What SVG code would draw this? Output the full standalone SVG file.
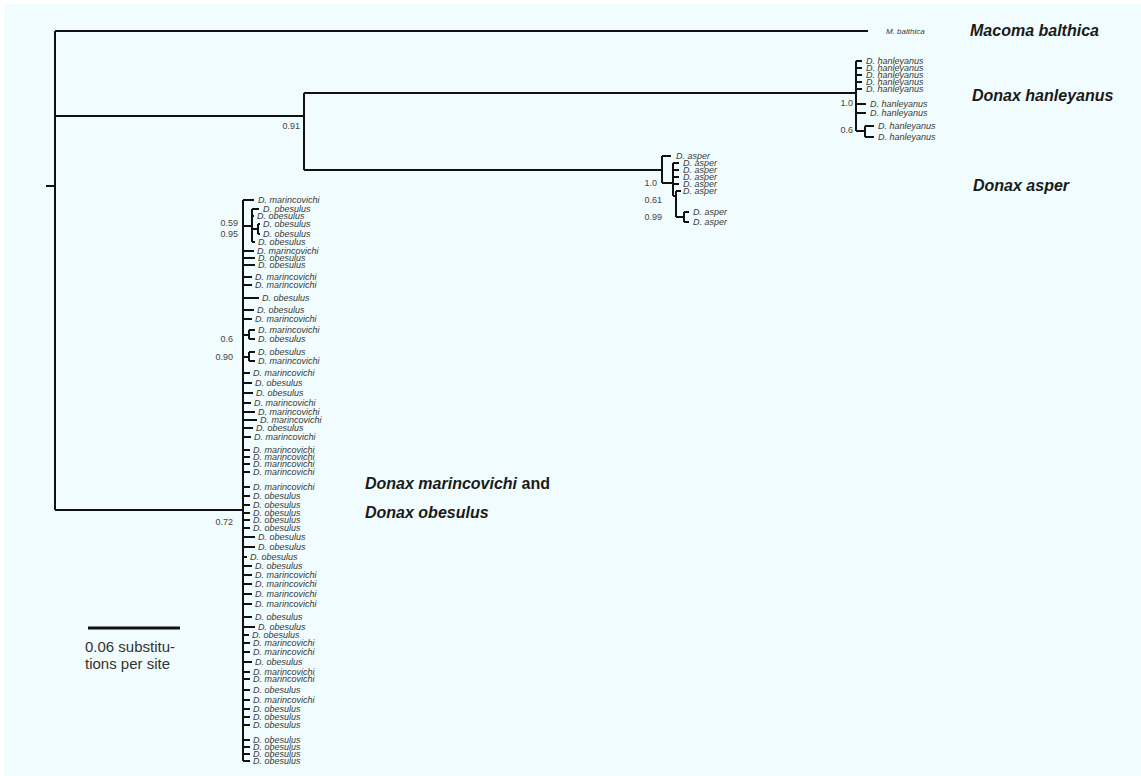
<svg xmlns="http://www.w3.org/2000/svg" width="1141" height="776" viewBox="0 0 1141 776">
<style>
.br{fill:none;stroke:#111;stroke-width:2}
.lf{font-family:"Liberation Sans",Arial,sans-serif;font-size:9px;font-style:italic;fill:#3a3a3a}
.sp{font-family:"Liberation Sans",Arial,sans-serif;font-size:9px;fill:#444;text-anchor:end}
.cl{font-family:"Liberation Sans",Arial,sans-serif;font-size:16px;font-weight:bold;font-style:italic;fill:#1a1a1a}
.sc{font-family:"Liberation Sans",Arial,sans-serif;font-size:15px;fill:#333}
</style>
<rect x="0" y="0" width="1141" height="776" fill="#ffffff"/>
<rect x="4" y="4" width="1137" height="772" fill="#f0fcfd"/>
<g id="connectors">
<path class="br" d="M46,186H55 M55,31V510 M55,31H868 M55,116H304 M304,93V170 M304,93H856 M304,170H662 M55,510H243"/>
<!-- hanleyanus -->
<path class="br" d="M856,61V131 M856,61H862 M856,68H862 M856,75H862 M856,82H862 M856,89H862 M856,104H866 M856,113H866 M856,131H865 M865,126V137 M865,126H874 M865,137H874"/>
<!-- asper -->
<path class="br" d="M662,156V183 M662,156H671 M662,183H673 M673,163V196 M673,163H679 M673,170H679 M673,177H679 M673,184H679 M673,196H676 M676,191V217 M676,191H681 M676,217H684 M684,212V222 M684,212H689 M684,222H689"/>
<!-- big clade -->
<path class="br" d="M243,200V761 M243,200H254 M243,226H252 M252,209V242 M252,209H259 M252,216H254 M252,242H255 M252,229H258 M258,224V234 M258,224H260 M258,234H260 M243,335H249 M249,330V339 M249,330H255 M249,339H255 M243,357H249 M249,352V361 M249,352H255 M249,361H255"/>
<path class="br" d="M243,251H254 M243,258H255 M243,265H255 M243,277H252 M243,285H252 M243,298H259 M243,310H254 M243,319H252 M243,373H250 M243,383H252 M243,393H253 M243,403H251 M243,412H255 M243,420H257 M243,428H253 M243,437H251 M243,450H250 M243,457H250 M243,464H250 M243,472H250 M243,487H250 M243,496H250 M243,505H250 M243,513H250 M243,520H250 M243,528H250 M243,537H255 M243,547H255 M243,557H247 M243,566H252 M243,575H252 M243,584H252 M243,594H252 M243,604H252 M243,617H252 M243,627H255 M243,635H249 M243,643H250 M243,652H250 M243,662H252 M243,672H250 M243,679H250 M243,690H250 M243,700H250 M243,709H250 M243,717H250 M243,725H250 M243,740H250 M243,747H250 M243,754H250 M243,761H250"/>
<line x1="88" y1="628" x2="180" y2="628" stroke="#111" stroke-width="3"/>
</g>
<g id="support">
<text class="sp" x="300" y="129">0.91</text>
<text class="sp" x="853" y="106">1.0</text>
<text class="sp" x="853" y="133">0.6</text>
<text class="sp" x="657" y="186">1.0</text>
<text class="sp" x="662" y="203">0.61</text>
<text class="sp" x="662" y="220">0.99</text>
<text class="sp" x="238" y="226">0.59</text>
<text class="sp" x="238" y="237">0.95</text>
<text class="sp" x="233" y="342">0.6</text>
<text class="sp" x="233" y="360">0.90</text>
<text class="sp" x="233" y="525">0.72</text>
</g>
<g id="macoma">
<text class="lf" x="886" y="34" style="font-size:8px">M. balthica</text>
<text class="cl" x="970" y="36">Macoma balthica</text>
</g>
<g id="hanleyanus">
<text class="lf" x="866" y="64">D. hanleyanus</text>
<text class="lf" x="866" y="71">D. hanleyanus</text>
<text class="lf" x="866" y="78">D. hanleyanus</text>
<text class="lf" x="866" y="85">D. hanleyanus</text>
<text class="lf" x="866" y="92">D. hanleyanus</text>
<text class="lf" x="870" y="107">D. hanleyanus</text>
<text class="lf" x="870" y="116">D. hanleyanus</text>
<text class="lf" x="878" y="129">D. hanleyanus</text>
<text class="lf" x="878" y="140">D. hanleyanus</text>
<text class="cl" x="972" y="101">Donax hanleyanus</text>
</g>
<g id="asper">
<text class="lf" x="676" y="159">D. asper</text>
<text class="lf" x="683" y="166">D. asper</text>
<text class="lf" x="683" y="173">D. asper</text>
<text class="lf" x="683" y="180">D. asper</text>
<text class="lf" x="683" y="187">D. asper</text>
<text class="lf" x="683" y="194">D. asper</text>
<text class="lf" x="693" y="215">D. asper</text>
<text class="lf" x="693" y="225">D. asper</text>
<text class="cl" x="973" y="191">Donax asper</text>
</g>
<g id="marincovichi-obesulus">
<text class="lf" x="258" y="203">D. marincovichi</text>
<text class="lf" x="263" y="212">D. obesulus</text>
<text class="lf" x="257" y="219">D. obesulus</text>
<text class="lf" x="263" y="227">D. obesulus</text>
<text class="lf" x="263" y="237">D. obesulus</text>
<text class="lf" x="258" y="245">D. obesulus</text>
<text class="lf" x="257" y="254">D. marincovichi</text>
<text class="lf" x="258" y="261">D. obesulus</text>
<text class="lf" x="258" y="268">D. obesulus</text>
<text class="lf" x="255" y="280">D. marincovichi</text>
<text class="lf" x="255" y="288">D. marincovichi</text>
<text class="lf" x="262" y="301">D. obesulus</text>
<text class="lf" x="257" y="313">D. obesulus</text>
<text class="lf" x="255" y="322">D. marincovichi</text>
<text class="lf" x="258" y="333">D. marincovichi</text>
<text class="lf" x="258" y="342">D. obesulus</text>
<text class="lf" x="258" y="355">D. obesulus</text>
<text class="lf" x="258" y="364">D. marincovichi</text>
<text class="lf" x="253" y="376">D. marincovichi</text>
<text class="lf" x="255" y="386">D. obesulus</text>
<text class="lf" x="256" y="396">D. obesulus</text>
<text class="lf" x="254" y="406">D. marincovichi</text>
<text class="lf" x="258" y="415">D. marincovichi</text>
<text class="lf" x="260" y="423">D. marincovichi</text>
<text class="lf" x="256" y="431">D. obesulus</text>
<text class="lf" x="254" y="440">D. marincovichi</text>
<text class="lf" x="253" y="453">D. marincovichi</text>
<text class="lf" x="253" y="460">D. marincovichi</text>
<text class="lf" x="253" y="467">D. marincovichi</text>
<text class="lf" x="253" y="475">D. marincovichi</text>
<text class="lf" x="253" y="490">D. marincovichi</text>
<text class="lf" x="253" y="499">D. obesulus</text>
<text class="lf" x="253" y="508">D. obesulus</text>
<text class="lf" x="253" y="516">D. obesulus</text>
<text class="lf" x="253" y="523">D. obesulus</text>
<text class="lf" x="253" y="531">D. obesulus</text>
<text class="lf" x="258" y="540">D. obesulus</text>
<text class="lf" x="258" y="550">D. obesulus</text>
<text class="lf" x="250" y="560">D. obesulus</text>
<text class="lf" x="255" y="569">D. obesulus</text>
<text class="lf" x="255" y="578">D. marincovichi</text>
<text class="lf" x="255" y="587">D. marincovichi</text>
<text class="lf" x="255" y="597">D. marincovichi</text>
<text class="lf" x="255" y="607">D. marincovichi</text>
<text class="lf" x="255" y="620">D. obesulus</text>
<text class="lf" x="258" y="630">D. obesulus</text>
<text class="lf" x="252" y="638">D. obesulus</text>
<text class="lf" x="253" y="646">D. marincovichi</text>
<text class="lf" x="253" y="655">D. marincovichi</text>
<text class="lf" x="255" y="665">D. obesulus</text>
<text class="lf" x="253" y="675">D. marincovichi</text>
<text class="lf" x="253" y="682">D. marincovichi</text>
<text class="lf" x="253" y="693">D. obesulus</text>
<text class="lf" x="253" y="703">D. marincovichi</text>
<text class="lf" x="253" y="712">D. obesulus</text>
<text class="lf" x="253" y="720">D. obesulus</text>
<text class="lf" x="253" y="728">D. obesulus</text>
<text class="lf" x="253" y="743">D. obesulus</text>
<text class="lf" x="253" y="750">D. obesulus</text>
<text class="lf" x="253" y="757">D. obesulus</text>
<text class="lf" x="253" y="764">D. obesulus</text>
<text class="cl" x="365" y="489">Donax marincovichi<tspan style="font-style:normal"> and</tspan></text>
<text class="cl" x="365" y="518">Donax obesulus</text>
</g>
<g id="scale">
<text class="sc" x="85" y="652">0.06 substitu-</text>
<text class="sc" x="85" y="669">tions per site</text>
</g>
</svg>
